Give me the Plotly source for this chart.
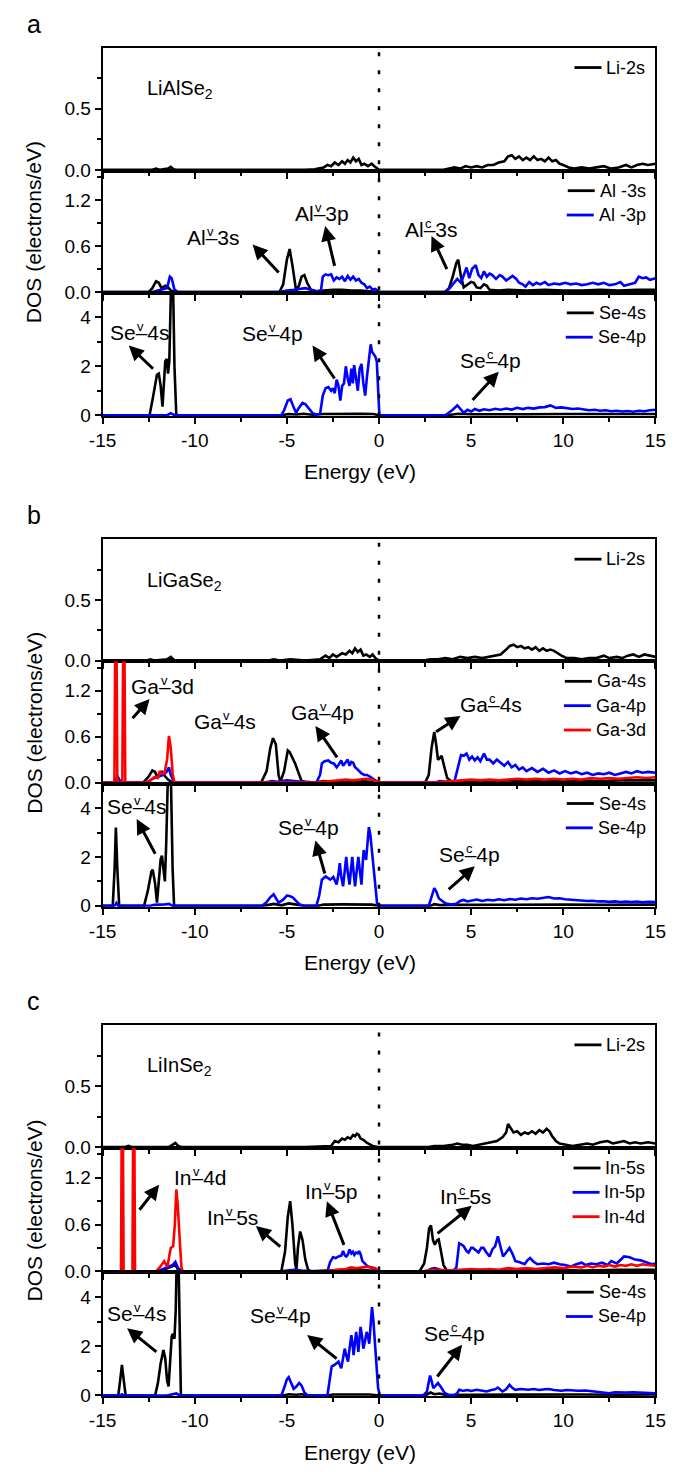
import plotly.graph_objects as go

# ---------------------------------------------------------------------------
# Projected DOS curves, (energy in eV, DOS in electrons/eV)
# ---------------------------------------------------------------------------

# ---- LiAlSe2 ----
A_LI_2S = [(-15, 0), (-12.3, 0), (-12.1, 0.01), (-11.9, 0), (-11.45, 0.01), (-11.3, 0.025), (-11.15, 0.005),
           (-11.0, 0), (-4.0, 0), (-3.5, 0.005), (-3.0, 0.02), (-2.8, 0.04), (-2.6, 0.03), (-2.4, 0.06),
           (-2.2, 0.04), (-2.0, 0.07), (-1.85, 0.05), (-1.7, 0.08), (-1.55, 0.06), (-1.4, 0.1), (-1.25, 0.07),
           (-1.1, 0.09), (-0.95, 0.04), (-0.8, 0.05), (-0.6, 0.03), (-0.4, 0.05), (-0.25, 0.03), (-0.1, 0.01),
           (0.0, 0), (3.5, 0), (3.8, 0.01), (4.1, 0.02), (4.4, 0.01), (4.7, 0.03), (5.0, 0.02), (5.3, 0.03),
           (5.6, 0.02), (5.9, 0.04), (6.2, 0.04), (6.5, 0.06), (6.8, 0.07), (7.0, 0.11), (7.2, 0.12),
           (7.4, 0.09), (7.6, 0.11), (7.8, 0.08), (8.0, 0.1), (8.2, 0.08), (8.4, 0.11), (8.6, 0.08),
           (8.8, 0.09), (9.0, 0.07), (9.2, 0.1), (9.4, 0.07), (9.6, 0.08), (9.8, 0.05), (10.0, 0.04),
           (10.3, 0.02), (10.6, 0.01), (11.0, 0.02), (11.4, 0.01), (11.8, 0.02), (12.2, 0.03), (12.6, 0.01),
           (13.0, 0.02), (13.4, 0.04), (13.7, 0.02), (14.0, 0.04), (14.3, 0.05), (14.6, 0.04), (15.0, 0.05)]

A_AL_3S = [(-15, 0), (-12.5, 0), (-12.3, 0.05), (-12.1, 0.14), (-11.95, 0.12), (-11.8, 0.05), (-11.6, 0.08),
           (-11.45, 0.06), (-11.3, 0.02), (-11.1, 0), (-5.4, 0), (-5.2, 0.1), (-5.0, 0.42), (-4.85, 0.56),
           (-4.7, 0.35), (-4.5, 0.02), (-4.35, 0.08), (-4.2, 0.2), (-4.05, 0.22), (-3.9, 0.12), (-3.7, 0.03),
           (-3.4, 0.01), (-3.0, 0.02), (-2.5, 0.03), (-2.0, 0.03), (-1.5, 0.02), (-1.0, 0.02), (-0.5, 0.01),
           (0, 0), (3.6, 0), (3.8, 0.05), (4.0, 0.2), (4.2, 0.38), (4.3, 0.42), (4.45, 0.2), (4.6, 0.06),
           (4.8, 0.1), (5.0, 0.13), (5.15, 0.12), (5.3, 0.06), (5.5, 0.05), (5.7, 0.1), (5.85, 0.08),
           (6.0, 0.03), (6.5, 0.02), (7, 0.03), (8, 0.02), (9, 0.03), (10, 0.02), (11, 0.02), (12, 0.03),
           (13, 0.02), (14, 0.03), (15, 0.03)]

A_AL_3P = [(-15, 0), (-12.3, 0), (-12.0, 0.02), (-11.7, 0.04), (-11.5, 0.05), (-11.35, 0.2), (-11.25, 0.18),
           (-11.1, 0.03), (-10.9, 0), (-5.4, 0), (-5.0, 0.02), (-4.6, 0.03), (-4.3, 0.04), (-4.0, 0.05),
           (-3.7, 0.03), (-3.4, 0.01), (-3.15, 0.02), (-3.05, 0.2), (-2.9, 0.23), (-2.75, 0.22), (-2.6, 0.23),
           (-2.45, 0.15), (-2.3, 0.19), (-2.15, 0.17), (-2.0, 0.2), (-1.85, 0.14), (-1.7, 0.21), (-1.55, 0.16),
           (-1.4, 0.2), (-1.25, 0.15), (-1.1, 0.17), (-0.95, 0.12), (-0.8, 0.1), (-0.65, 0.05), (-0.5, 0.07),
           (-0.35, 0.03), (-0.2, 0.04), (0, 0), (3.55, 0), (3.8, 0.04), (4.0, 0.1), (4.25, 0.17), (4.45, 0.12),
           (4.6, 0.23), (4.75, 0.32), (4.9, 0.18), (5.05, 0.3), (5.25, 0.35), (5.4, 0.22), (5.55, 0.18),
           (5.7, 0.27), (5.85, 0.2), (6.0, 0.24), (6.15, 0.22), (6.35, 0.17), (6.55, 0.22), (6.7, 0.2),
           (6.9, 0.15), (7.05, 0.18), (7.25, 0.21), (7.45, 0.17), (7.6, 0.12), (7.8, 0.1), (7.95, 0.07),
           (8.15, 0.13), (8.35, 0.09), (8.55, 0.12), (8.75, 0.1), (9.0, 0.13), (9.2, 0.09), (9.5, 0.11),
           (9.8, 0.1), (10.1, 0.12), (10.4, 0.1), (10.7, 0.11), (11.0, 0.09), (11.3, 0.1), (11.6, 0.12),
           (11.9, 0.1), (12.2, 0.12), (12.5, 0.09), (12.8, 0.1), (13.1, 0.13), (13.3, 0.08), (13.6, 0.1),
           (13.9, 0.12), (14.1, 0.2), (14.3, 0.18), (14.5, 0.19), (14.7, 0.16), (15.0, 0.18)]

A_SE_4S = [(-15, 0), (-12.45, 0), (-12.25, 0.8), (-12.05, 1.65), (-11.95, 1.7), (-11.85, 1.2), (-11.75, 0.35),
           (-11.68, 1.2), (-11.6, 2.2), (-11.52, 2.3), (-11.45, 1.7), (-11.38, 2.2), (-11.28, 5.5),
           (-11.18, 5.5), (-11.1, 2.0), (-11.0, 0), (-5.3, 0), (-4.9, 0.05), (-4.5, 0.03), (-4.1, 0.06),
           (-3.6, 0.02), (-3.0, 0.05), (-2.0, 0.07), (-1.0, 0.06), (-0.3, 0.05), (0, 0), (3.7, 0), (4.3, 0.06),
           (5, 0.04), (6, 0.05), (8, 0.04), (10, 0.05), (12, 0.04), (15, 0.05)]

A_SE_4P = [(-15, 0), (-11.5, 0), (-11.3, 0.08), (-11.1, 0), (-5.3, 0), (-5.15, 0.2), (-4.95, 0.6), (-4.8, 0.65),
           (-4.65, 0.35), (-4.5, 0.1), (-4.35, 0.3), (-4.15, 0.5), (-4.0, 0.45), (-3.8, 0.25), (-3.6, 0.08),
           (-3.4, 0.02), (-3.2, 0.05), (-3.05, 0.8), (-2.9, 1.1), (-2.75, 1.15), (-2.6, 1.0), (-2.5, 1.1),
           (-2.4, 0.9), (-2.3, 1.45), (-2.2, 1.2), (-2.1, 0.6), (-2.0, 1.2), (-1.9, 1.3), (-1.8, 2.0),
           (-1.7, 1.5), (-1.6, 1.2), (-1.5, 1.9), (-1.42, 1.3), (-1.35, 2.05), (-1.25, 1.4), (-1.15, 1.0),
           (-1.05, 1.9), (-0.95, 2.1), (-0.85, 1.3), (-0.75, 0.8), (-0.65, 1.6), (-0.55, 2.2), (-0.45, 2.9),
           (-0.38, 2.6), (-0.3, 2.5), (-0.2, 2.4), (-0.12, 2.2), (-0.05, 1.0), (0.02, 0), (3.6, 0), (3.8, 0.1),
           (4.0, 0.22), (4.25, 0.4), (4.45, 0.25), (4.6, 0.1), (4.8, 0.22), (5.0, 0.15), (5.2, 0.25),
           (5.45, 0.18), (5.7, 0.24), (6.0, 0.2), (6.3, 0.26), (6.6, 0.22), (6.9, 0.27), (7.2, 0.23),
           (7.5, 0.3), (7.8, 0.25), (8.1, 0.3), (8.4, 0.27), (8.7, 0.32), (9.0, 0.33), (9.3, 0.4), (9.6, 0.3),
           (9.9, 0.32), (10.2, 0.28), (10.5, 0.25), (10.8, 0.27), (11.1, 0.22), (11.4, 0.2), (11.7, 0.22),
           (12.0, 0.18), (12.3, 0.2), (12.6, 0.16), (12.9, 0.18), (13.2, 0.15), (13.5, 0.17), (13.8, 0.14),
           (14.1, 0.18), (14.4, 0.16), (14.7, 0.2), (15, 0.22)]

# ---- LiGaSe2 ----
B_LI_2S = [(-15, 0), (-12.6, 0), (-12.4, 0.01), (-12.2, 0), (-11.5, 0.01), (-11.3, 0.03), (-11.1, 0), (-6, 0),
           (-5.7, 0.01), (-5.4, 0), (-4.8, 0.01), (-4, 0), (-3.2, 0.01), (-2.9, 0.04), (-2.7, 0.02),
           (-2.5, 0.05), (-2.3, 0.03), (-2.0, 0.06), (-1.8, 0.05), (-1.6, 0.08), (-1.45, 0.06), (-1.3, 0.1),
           (-1.15, 0.07), (-1.0, 0.09), (-0.85, 0.04), (-0.7, 0.05), (-0.5, 0.03), (-0.35, 0.05), (-0.2, 0.02),
           (0, 0), (2.4, 0), (2.8, 0.01), (3.2, 0.01), (3.6, 0.02), (4.0, 0.01), (4.4, 0.03), (4.8, 0.02),
           (5.2, 0.03), (5.6, 0.02), (6.0, 0.03), (6.3, 0.04), (6.6, 0.05), (6.9, 0.09), (7.1, 0.12),
           (7.3, 0.13), (7.5, 0.11), (7.7, 0.12), (7.9, 0.1), (8.1, 0.11), (8.3, 0.09), (8.5, 0.11),
           (8.7, 0.08), (8.9, 0.1), (9.1, 0.08), (9.3, 0.09), (9.5, 0.08), (9.7, 0.06), (9.9, 0.04),
           (10.2, 0.02), (10.6, 0.02), (11.0, 0.01), (11.4, 0.02), (11.8, 0.02), (12.2, 0.04), (12.5, 0.02),
           (12.9, 0.03), (13.2, 0.02), (13.5, 0.04), (13.8, 0.05), (14.1, 0.03), (14.4, 0.05), (14.7, 0.04),
           (15, 0.03)]

B_GA_4S = [(-15, 0), (-12.8, 0), (-12.5, 0.08), (-12.3, 0.16), (-12.15, 0.14), (-12.05, 0.08), (-11.9, 0.12),
           (-11.78, 0.14), (-11.6, 0.08), (-11.45, 0.04), (-11.2, 0), (-6.4, 0), (-6.1, 0.15), (-5.9, 0.45),
           (-5.75, 0.58), (-5.6, 0.5), (-5.45, 0.1), (-5.35, 0.01), (-5.15, 0.15), (-4.95, 0.42), (-4.85, 0.4),
           (-4.7, 0.33), (-4.55, 0.25), (-4.4, 0.15), (-4.2, 0.02), (-4.0, 0.01), (-3.5, 0), (-3.0, 0.02),
           (-2.5, 0.01), (-2.0, 0.02), (-1.5, 0.02), (-1.0, 0.02), (-0.5, 0.01), (0, 0), (2.5, 0), (2.7, 0.1),
           (2.85, 0.45), (3.0, 0.66), (3.1, 0.5), (3.2, 0.3), (3.3, 0.32), (3.4, 0.35), (3.55, 0.2),
           (3.7, 0.06), (3.9, 0.02), (4.5, 0.01), (5, 0.02), (6, 0.02), (7, 0.03), (8, 0.02), (9, 0.03),
           (10, 0.02), (11, 0.03), (12, 0.02), (13, 0.03), (14, 0.03), (15, 0.03)]

B_GA_4P = [(-15, 0), (-14.35, 0), (-14.2, 0.09), (-14.05, 0.02), (-13.9, 0), (-12.6, 0), (-12.3, 0.05),
           (-12.0, 0.08), (-11.7, 0.1), (-11.5, 0.15), (-11.4, 0.2), (-11.3, 0.1), (-11.1, 0), (-6.2, 0),
           (-5.8, 0.02), (-5.5, 0.01), (-5.0, 0.03), (-4.6, 0.02), (-4.2, 0.01), (-3.4, 0), (-3.2, 0.1),
           (-3.1, 0.25), (-2.95, 0.28), (-2.75, 0.29), (-2.6, 0.26), (-2.45, 0.25), (-2.3, 0.2), (-2.2, 0.23),
           (-2.05, 0.29), (-1.95, 0.22), (-1.8, 0.27), (-1.7, 0.3), (-1.6, 0.22), (-1.5, 0.27), (-1.4, 0.26),
           (-1.3, 0.2), (-1.2, 0.18), (-1.1, 0.15), (-0.95, 0.12), (-0.8, 0.1), (-0.65, 0.1), (-0.5, 0.08),
           (-0.35, 0.05), (-0.2, 0.03), (0, 0), (3.0, 0), (3.3, 0.02), (3.6, 0.01), (4.1, 0.02), (4.3, 0.2),
           (4.45, 0.36), (4.6, 0.35), (4.75, 0.38), (4.9, 0.3), (5.05, 0.34), (5.2, 0.29), (5.35, 0.33),
           (5.5, 0.28), (5.7, 0.38), (5.85, 0.3), (6.0, 0.3), (6.2, 0.25), (6.4, 0.3), (6.6, 0.26),
           (6.8, 0.22), (7.0, 0.27), (7.2, 0.2), (7.4, 0.23), (7.6, 0.17), (7.8, 0.2), (8.0, 0.15),
           (8.3, 0.19), (8.6, 0.14), (8.9, 0.18), (9.2, 0.13), (9.5, 0.16), (9.8, 0.12), (10.1, 0.15),
           (10.4, 0.12), (10.7, 0.14), (11.0, 0.11), (11.3, 0.13), (11.6, 0.1), (11.9, 0.12), (12.2, 0.11),
           (12.5, 0.13), (12.8, 0.1), (13.1, 0.12), (13.4, 0.14), (13.7, 0.12), (14.0, 0.15), (14.3, 0.13),
           (14.6, 0.14), (15, 0.13)]

B_GA_3D = [(-15, 0), (-14.36, 0), (-14.31, 2.0), (-14.25, 2.0), (-14.2, 0), (-13.93, 0), (-13.88, 2.0),
           (-13.82, 2.0), (-13.77, 0), (-12.6, 0), (-12.4, 0.03), (-12.2, 0.07), (-12.0, 0.06), (-11.9, 0.15),
           (-11.8, 0.12), (-11.65, 0.12), (-11.5, 0.3), (-11.4, 0.61), (-11.3, 0.45), (-11.2, 0.12),
           (-11.1, 0), (-3.5, 0), (-3.0, 0.01), (-2.6, 0.02), (-2.2, 0.03), (-1.8, 0.04), (-1.4, 0.03),
           (-1.0, 0.04), (-0.7, 0.05), (-0.4, 0.04), (-0.2, 0.02), (0, 0), (3.0, 0), (3.4, 0.01), (4.0, 0.02),
           (4.5, 0.03), (5.0, 0.04), (5.5, 0.03), (6.0, 0.04), (6.5, 0.03), (7.0, 0.04), (7.5, 0.05),
           (8, 0.04), (8.5, 0.05), (9, 0.04), (9.5, 0.05), (10, 0.04), (10.5, 0.05), (11, 0.04), (11.5, 0.06),
           (12, 0.05), (12.5, 0.06), (13, 0.05), (13.5, 0.06), (14, 0.07), (14.5, 0.06), (15, 0.07)]

B_SE_4S = [(-15, 0), (-14.45, 0), (-14.35, 1.5), (-14.28, 3.2), (-14.2, 1.5), (-14.1, 0), (-12.75, 0),
           (-12.55, 0.6), (-12.35, 1.4), (-12.28, 1.48), (-12.15, 0.9), (-12.05, 0.13), (-11.95, 1.0),
           (-11.85, 1.9), (-11.78, 2.05), (-11.68, 1.5), (-11.62, 1.0), (-11.55, 2.5), (-11.45, 5.5),
           (-11.3, 5.5), (-11.2, 1.5), (-11.12, 0), (-6.3, 0), (-5.7, 0.08), (-5.3, 0.02), (-4.9, 0.1),
           (-4.5, 0.05), (-4.1, 0.01), (-3.3, 0), (-3.0, 0.05), (-2.0, 0.06), (-1.0, 0.05), (-0.4, 0.05),
           (0, 0), (2.8, 0), (3.0, 0.07), (3.3, 0.03), (4.5, 0.04), (6, 0.05), (8, 0.04), (10, 0.05),
           (12, 0.04), (15, 0.05)]

B_SE_4P = [(-15, 0), (-14.35, 0), (-14.25, 0.12), (-14.15, 0), (-12.4, 0), (-12.2, 0.04), (-11.6, 0.06),
           (-11.4, 0.08), (-11.2, 0), (-6.35, 0), (-6.1, 0.15), (-5.9, 0.35), (-5.72, 0.47), (-5.6, 0.3),
           (-5.45, 0.13), (-5.2, 0.25), (-5.0, 0.42), (-4.85, 0.4), (-4.67, 0.34), (-4.5, 0.2), (-4.3, 0.05),
           (-4.1, 0.01), (-3.4, 0), (-3.25, 0.4), (-3.1, 1.07), (-2.9, 1.2), (-2.75, 1.12), (-2.65, 1.07),
           (-2.48, 1.18), (-2.3, 0.87), (-2.2, 1.3), (-2.13, 1.75), (-2.05, 1.2), (-1.95, 0.8), (-1.85, 1.5),
           (-1.78, 2.0), (-1.7, 1.4), (-1.6, 0.87), (-1.52, 1.5), (-1.45, 2.0), (-1.38, 1.4), (-1.3, 0.8),
           (-1.2, 1.5), (-1.12, 2.0), (-1.05, 1.5), (-0.95, 0.87), (-0.88, 1.8), (-0.83, 2.28), (-0.7, 1.88),
           (-0.62, 2.6), (-0.55, 3.22), (-0.47, 2.9), (-0.4, 2.28), (-0.3, 1.6), (-0.23, 1.07), (-0.1, 0.07),
           (0, 0), (2.7, 0), (2.85, 0.4), (3.0, 0.72), (3.1, 0.6), (3.25, 0.3), (3.4, 0.22), (3.6, 0.1),
           (3.9, 0.05), (4.2, 0.08), (4.4, 0.2), (4.6, 0.24), (4.8, 0.18), (5.0, 0.22), (5.3, 0.26),
           (5.6, 0.2), (5.9, 0.25), (6.2, 0.22), (6.5, 0.27), (6.8, 0.23), (7.1, 0.28), (7.4, 0.25),
           (7.7, 0.3), (8.0, 0.27), (8.3, 0.31), (8.6, 0.29), (8.9, 0.32), (9.2, 0.36), (9.5, 0.3),
           (9.8, 0.31), (10.1, 0.27), (10.4, 0.25), (10.7, 0.26), (11.0, 0.22), (11.3, 0.2), (11.6, 0.21),
           (11.9, 0.18), (12.2, 0.19), (12.5, 0.16), (12.8, 0.18), (13.1, 0.15), (13.4, 0.17), (13.7, 0.15),
           (14.0, 0.17), (14.3, 0.14), (14.6, 0.16), (15, 0.15)]

# ---- LiInSe2 ----
C_LI_2S = [(-15, 0), (-13.8, 0), (-13.6, 0.01), (-13.4, 0), (-11.4, 0), (-11.2, 0.02), (-11.05, 0.035),
           (-10.9, 0.01), (-10.7, 0), (-4.0, 0), (-3.0, 0.01), (-2.6, 0.01), (-2.4, 0.05), (-2.2, 0.04),
           (-2.0, 0.07), (-1.85, 0.06), (-1.7, 0.08), (-1.55, 0.07), (-1.4, 0.1), (-1.3, 0.09), (-1.2, 0.11),
           (-1.1, 0.1), (-1.0, 0.07), (-0.85, 0.06), (-0.7, 0.04), (-0.5, 0.02), (-0.35, 0.01), (0, 0),
           (2.6, 0), (3.0, 0.01), (3.5, 0.01), (4.0, 0.02), (4.25, 0.03), (4.5, 0.02), (4.8, 0.02),
           (5.1, 0.01), (5.4, 0.02), (5.8, 0.03), (6.1, 0.04), (6.4, 0.05), (6.7, 0.08), (6.9, 0.12),
           (7.0, 0.19), (7.15, 0.15), (7.3, 0.12), (7.5, 0.13), (7.7, 0.1), (7.9, 0.12), (8.1, 0.11),
           (8.3, 0.13), (8.5, 0.11), (8.7, 0.14), (8.9, 0.12), (9.1, 0.15), (9.25, 0.13), (9.4, 0.09),
           (9.6, 0.05), (9.8, 0.03), (10.1, 0.02), (10.5, 0.01), (10.9, 0.02), (11.3, 0.03), (11.6, 0.02),
           (12.0, 0.04), (12.4, 0.05), (12.7, 0.03), (13.0, 0.04), (13.3, 0.05), (13.6, 0.03), (13.9, 0.04),
           (14.2, 0.03), (14.6, 0.04), (15, 0.03)]

C_IN_5S = [(-15, 0), (-11.9, 0), (-11.6, 0.03), (-11.4, 0.05), (-11.2, 0.06), (-11.05, 0.08), (-10.9, 0.02),
           (-10.7, 0), (-5.3, 0), (-5.1, 0.25), (-4.95, 0.7), (-4.82, 0.9), (-4.7, 0.6), (-4.55, 0.1),
           (-4.48, 0.02), (-4.4, 0.3), (-4.28, 0.51), (-4.15, 0.4), (-4.0, 0.15), (-3.85, 0.02), (-3.7, 0),
           (-3.0, 0.01), (-2.0, 0.02), (-1.0, 0.02), (-0.4, 0.01), (0, 0), (2.2, 0), (2.45, 0.1), (2.6, 0.3),
           (2.72, 0.55), (2.82, 0.59), (2.93, 0.4), (3.03, 0.34), (3.15, 0.4), (3.24, 0.41), (3.35, 0.25),
           (3.5, 0.08), (3.65, 0.02), (3.8, 0), (4.5, 0.01), (5.5, 0.02), (7, 0.01), (9, 0.02), (11, 0.01),
           (13, 0.02), (15, 0.02)]

C_IN_5P = [(-15, 0), (-14.05, 0), (-13.95, 0.02), (-13.85, 0), (-12.0, 0), (-11.7, 0.03), (-11.4, 0.05),
           (-11.2, 0.08), (-11.05, 0.12), (-10.9, 0.04), (-10.7, 0), (-5.3, 0), (-5.0, 0.01), (-4.6, 0.02),
           (-4.2, 0.01), (-3.5, 0), (-2.8, 0), (-2.65, 0.12), (-2.5, 0.18), (-2.35, 0.17), (-2.2, 0.19),
           (-2.05, 0.2), (-1.95, 0.26), (-1.85, 0.2), (-1.77, 0.19), (-1.68, 0.22), (-1.6, 0.28), (-1.5, 0.23),
           (-1.42, 0.25), (-1.34, 0.21), (-1.25, 0.24), (-1.15, 0.23), (-1.08, 0.26), (-1.0, 0.22),
           (-0.9, 0.13), (-0.75, 0.1), (-0.6, 0.06), (-0.45, 0.05), (-0.3, 0.03), (-0.15, 0.02), (0, 0),
           (2.6, 0), (2.8, 0.03), (3.0, 0.04), (3.2, 0.03), (3.4, 0.01), (4.0, 0), (4.2, 0.05), (4.35, 0.36),
           (4.5, 0.34), (4.6, 0.32), (4.75, 0.26), (4.86, 0.24), (5.0, 0.3), (5.1, 0.3), (5.25, 0.27),
           (5.4, 0.24), (5.55, 0.3), (5.67, 0.3), (5.8, 0.25), (6.0, 0.19), (6.15, 0.28), (6.3, 0.32),
           (6.45, 0.45), (6.6, 0.3), (6.73, 0.19), (6.9, 0.24), (7.08, 0.3), (7.25, 0.22), (7.4, 0.13),
           (7.6, 0.12), (7.9, 0.09), (8.05, 0.14), (8.2, 0.17), (8.4, 0.12), (8.6, 0.09), (8.9, 0.1),
           (9.2, 0.09), (9.5, 0.11), (9.8, 0.09), (10.1, 0.08), (10.4, 0.06), (10.7, 0.09), (11.0, 0.11),
           (11.2, 0.08), (11.5, 0.1), (11.8, 0.09), (12.1, 0.11), (12.4, 0.08), (12.6, 0.13), (12.9, 0.1),
           (13.1, 0.15), (13.3, 0.19), (13.6, 0.18), (13.9, 0.15), (14.2, 0.14), (14.5, 0.11), (14.8, 0.09),
           (15, 0.1)]

C_IN_4D = [(-15, 0), (-14.0, 0), (-13.96, 2.0), (-13.9, 2.0), (-13.86, 0), (-13.38, 0), (-13.34, 2.0),
           (-13.28, 2.0), (-13.24, 0), (-12.1, 0), (-11.9, 0.05), (-11.75, 0.1), (-11.66, 0.13),
           (-11.55, 0.08), (-11.48, 0.06), (-11.38, 0.2), (-11.3, 0.3), (-11.17, 0.32), (-11.08, 0.6),
           (-11.0, 1.05), (-10.92, 0.85), (-10.8, 0.34), (-10.72, 0.05), (-10.65, 0), (-3.0, 0), (-2.6, 0.01),
           (-2.2, 0.02), (-1.8, 0.03), (-1.5, 0.05), (-1.2, 0.04), (-0.9, 0.05), (-0.64, 0.06), (-0.4, 0.05),
           (-0.2, 0.04), (0, 0), (2.4, 0), (2.8, 0.02), (3.2, 0.02), (3.8, 0.01), (4.4, 0.02), (5.0, 0.03),
           (5.5, 0.02), (6.0, 0.03), (6.5, 0.02), (7.0, 0.04), (7.5, 0.03), (8.0, 0.04), (8.5, 0.03),
           (9.0, 0.04), (9.5, 0.05), (10.0, 0.04), (10.5, 0.06), (11.0, 0.05), (11.3, 0.07), (11.6, 0.05),
           (11.9, 0.07), (12.2, 0.06), (12.5, 0.08), (12.8, 0.06), (13.1, 0.08), (13.4, 0.07), (13.7, 0.09),
           (14.0, 0.07), (14.3, 0.09), (14.6, 0.08), (15, 0.07)]

C_SE_4S = [(-15, 0), (-14.15, 0), (-14.05, 0.6), (-13.95, 1.24), (-13.85, 0.6), (-13.75, 0), (-12.15, 0),
           (-12.0, 0.5), (-11.85, 1.3), (-11.7, 1.84), (-11.6, 1.5), (-11.5, 0.6), (-11.42, 0.37),
           (-11.35, 1.2), (-11.25, 2.4), (-11.18, 2.5), (-11.1, 2.3), (-11.03, 3.5), (-10.98, 5.5),
           (-10.88, 5.5), (-10.82, 2.0), (-10.75, 0), (-5.2, 0), (-4.9, 0.05), (-4.5, 0.03), (-4.2, 0.05),
           (-3.8, 0), (-2.8, 0), (-2.5, 0.04), (-1.5, 0.05), (-0.5, 0.04), (0, 0), (2.5, 0), (2.8, 0.12),
           (3.0, 0.05), (3.3, 0.08), (3.6, 0.02), (5, 0.03), (7, 0.04), (9, 0.03), (11, 0.04), (13, 0.03),
           (15, 0.04)]

C_SE_4P = [(-15, 0), (-14.05, 0), (-13.95, 0.05), (-13.85, 0), (-11.5, 0), (-11.2, 0.05), (-11.0, 0.08),
           (-10.8, 0), (-5.3, 0), (-5.15, 0.3), (-5.0, 0.65), (-4.9, 0.74), (-4.78, 0.55), (-4.63, 0.27),
           (-4.5, 0.35), (-4.33, 0.51), (-4.2, 0.4), (-4.05, 0.12), (-3.9, 0.02), (-3.7, 0), (-2.8, 0),
           (-2.7, 0.5), (-2.57, 1.17), (-2.4, 1.25), (-2.2, 1.37), (-2.05, 1.1), (-1.95, 1.5), (-1.86, 1.9),
           (-1.77, 1.6), (-1.68, 1.37), (-1.6, 1.9), (-1.5, 2.45), (-1.44, 2.1), (-1.38, 1.64), (-1.3, 2.2),
           (-1.24, 2.58), (-1.18, 2.2), (-1.12, 1.77), (-1.06, 2.3), (-1.0, 2.78), (-0.92, 2.4), (-0.85, 1.9),
           (-0.76, 2.2), (-0.67, 2.58), (-0.6, 2.4), (-0.53, 2.1), (-0.46, 2.8), (-0.38, 3.59), (-0.3, 3.0),
           (-0.23, 2.31), (-0.14, 1.3), (-0.05, 0.3), (0.05, 0), (2.4, 0), (2.6, 0.16), (2.7, 0.5),
           (2.77, 0.81), (2.85, 0.6), (2.95, 0.3), (3.08, 0.4), (3.2, 0.5), (3.35, 0.35), (3.56, 0.1),
           (3.8, 0.01), (4.1, 0.01), (4.25, 0.1), (4.35, 0.23), (4.5, 0.2), (4.6, 0.19), (4.8, 0.22),
           (5.0, 0.18), (5.3, 0.23), (5.6, 0.19), (5.84, 0.16), (6.1, 0.22), (6.3, 0.25), (6.45, 0.32),
           (6.6, 0.2), (6.7, 0.16), (6.9, 0.25), (7.08, 0.43), (7.25, 0.3), (7.4, 0.23), (7.7, 0.26),
           (8.0, 0.22), (8.1, 0.23), (8.4, 0.26), (8.7, 0.22), (9.0, 0.25), (9.2, 0.26), (9.5, 0.22),
           (9.9, 0.19), (10.2, 0.22), (10.5, 0.2), (10.8, 0.19), (11.2, 0.2), (11.6, 0.16), (12.0, 0.15),
           (12.5, 0.09), (12.8, 0.13), (13.1, 0.11), (13.4, 0.12), (13.8, 0.13), (14.3, 0.12), (14.6, 0.1),
           (15, 0.09)]

# Tick values / labels
X_TICKS = [-15, -10, -5, 0, 5, 10, 15]
X_MINOR = [-12.5, -7.5, -2.5, 2.5, 7.5, 12.5]
LI_TICKS, LI_TEXT, LI_MINOR = [0, 0.5], ['0.0', '0.5'], [0.25, 0.75]
M_TICKS, M_TEXT, M_MINOR = [0, 0.6, 1.2], ['0.0', '0.6', '1.2'], [0.3, 0.9, 1.5]
SE_TICKS, SE_TEXT, SE_MINOR = [0, 2, 4], ['0', '2', '4'], [1, 3]

# ---------------------------------------------------------------------------
# Figure layout
# ---------------------------------------------------------------------------
W, H = 677, 1472
X_LEFT, X_RIGHT = 92, 666
FONT = 'Arial, Liberation Sans, sans-serif'
BLACK, BLUE, RED = '#000000', '#0000ff', '#ff0000'

TICK_SIZE = 19
TITLE_SIZE = 21
LABEL_SIZE = 21
MARK_SIZE = 13
LEGEND_SIZE = 18
CURVE_W = 2.6

# Arial advance widths (em) for right-aligning legend text and placing band marks
ARIAL_W = {'A': .667, 'l': .222, 'G': .778, 'a': .556, 'I': .278, 'n': .556, 'S': .667, 'e': .556,
           '–': .556, 'L': .556, 'i': .222, '-': .333, '2': .556, '3': .556, '4': .556, '5': .556,
           's': .5, 'p': .556, 'd': .556, ' ': .278}


def text_w(s, size):
    return sum(ARIAL_W.get(ch, .556) for ch in s) * size


def fx(px):
    return px / W


def fy(px):
    return 1 - px / H


ROW_AXES = {
    'li': dict(range=[-0.008, 1.0], tickvals=LI_TICKS, ticktext=LI_TEXT, minor=LI_MINOR),
    'metal': dict(range=[-0.013, 1.58], tickvals=M_TICKS, ticktext=M_TEXT, minor=M_MINOR),
    'se': dict(range=[-0.04, 5.0], tickvals=SE_TICKS, ticktext=SE_TEXT, minor=SE_MINOR),
}

# labels: (element, band mark, orbital, E_left, y, arrow head (E, y) or None, arrow tail (E, y))
PANELS = [
    dict(letter='a', compound='LiAlSe<sub>2</sub>', edges=(48, 172, 295, 419), rows=[
        dict(kind='li', series=[('Li-2s', BLACK, A_LI_2S)], labels=[]),
        dict(kind='metal', series=[('Al -3s', BLACK, A_AL_3S), ('Al -3p', BLUE, A_AL_3P)], labels=[
            ('Al', 'v', '3s', -10.45, 0.71, (-6.86, 0.62), (-5.37, 0.235)),
            ('Al', 'v', '3p', -4.62, 1.03, (-2.92, 0.86), (-2.39, 0.32)),
            ('Al', 'c', '3s', 1.38, 0.81, (2.85, 0.73), (3.72, 0.28))]),
        dict(kind='se', series=[('Se-4s', BLACK, A_SE_4S), ('Se-4p', BLUE, A_SE_4P)], labels=[
            ('Se', 'v', '4s', -14.63, 3.39, (-13.58, 2.85), (-12.18, 1.84)),
            ('Se', 'v', '4p', -7.47, 3.33, (-3.61, 2.85), (-2.36, 1.44)),
            ('Se', 'c', '4p', 4.35, 2.25, (6.5, 1.78), (5.0, 0.56))]),
    ]),
    dict(letter='b', compound='LiGaSe<sub>2</sub>', edges=(543, 666, 789, 913), rows=[
        dict(kind='li', series=[('Li-2s', BLACK, B_LI_2S)], labels=[]),
        dict(kind='metal', series=[('Ga-4s', BLACK, B_GA_4S), ('Ga-4p', BLUE, B_GA_4P),
                                   ('Ga-3d', RED, B_GA_3D)], labels=[
            ('Ga', 'v', '3d', -13.5, 1.25, (-12.45, 1.09), (-13.45, 0.82)),
            ('Ga', 'v', '4s', -10.09, 0.8, None, None),
            ('Ga', 'v', '4p', -4.84, 0.91, (-3.45, 0.74), (-2.22, 0.31)),
            ('Ga', 'c', '4s', 4.33, 1.02, (4.42, 0.87), (3.02, 0.65))]),
        dict(kind='se', series=[('Se-4s', BLACK, B_SE_4S), ('Se-4p', BLUE, B_SE_4P)], labels=[
            ('Se', 'v', '4s', -14.81, 4.08, (-13.15, 3.55), (-12.1, 2.07)),
            ('Se', 'v', '4p', -5.55, 3.21, (-3.45, 2.67), (-2.92, 1.26)),
            ('Se', 'c', '4p', 3.2, 2.1, (5.2, 1.62), (3.7, 0.62))]),
    ]),
    dict(letter='c', compound='LiInSe<sub>2</sub>', edges=(1032, 1156, 1281, 1406), rows=[
        dict(kind='li', series=[('Li-2s', BLACK, C_LI_2S)], labels=[]),
        dict(kind='metal', series=[('In-5s', BLACK, C_IN_5S), ('In-5p', BLUE, C_IN_5P),
                                   ('In-4d', RED, C_IN_4D)], labels=[
            ('In', 'v', '4d', -11.17, 1.2, (-11.93, 1.11), (-13.06, 0.77)),
            ('In', 'v', '5s', -9.39, 0.69, (-6.68, 0.58), (-5.28, 0.3)),
            ('In', 'v', '5p', -4.06, 1.03, (-2.83, 0.9), (-1.87, 0.32)),
            ('In', 'c', '5s', 3.28, 0.96, (5.03, 0.84), (3.1, 0.47))]),
        dict(kind='se', series=[('Se-4s', BLACK, C_SE_4S), ('Se-4p', BLUE, C_SE_4P)], labels=[
            ('Se', 'v', '4s', -14.81, 3.33, (-13.67, 2.73), (-12.0, 1.72)),
            ('Se', 'v', '4p', -7.08, 3.25, (-3.9, 2.45), (-2.22, 1.45)),
            ('Se', 'c', '4p', 2.41, 2.53, (4.51, 2.06), (3.1, 0.71))]),
    ]),
]

fig = go.Figure()
layout = dict(width=W, height=H, margin=dict(l=0, r=0, t=0, b=0), showlegend=False,
              paper_bgcolor='white', plot_bgcolor='white', font=dict(family=FONT, color='black'))
annotations, shapes = [], []

k = 0
for panel in PANELS:
    top, b1, b2, bottom = panel['edges']
    bounds = [(top, b1), (b1, b2), (b2, bottom)]
    first_x = None
    for r, row in enumerate(panel['rows']):
        k += 1
        sfx = '' if k == 1 else str(k)
        xid, yid = 'x' + sfx, 'y' + sfx
        if first_x is None:
            first_x = xid
        r_top, r_bot = bounds[r]
        spec = ROW_AXES[row['kind']]
        is_bottom = r == 2

        layout['xaxis' + sfx] = dict(
            domain=[fx(X_LEFT), fx(X_RIGHT)], range=[-15, 15], anchor=yid,
            showline=True, linecolor='black', linewidth=2, mirror=True,
            ticks='outside', ticklen=6, tickwidth=2, tickcolor='black',
            tickvals=X_TICKS, ticktext=[str(v) for v in X_TICKS],
            minor=dict(ticks='outside', ticklen=3.5, tickwidth=1.5, tickcolor='black', tickvals=X_MINOR),
            showticklabels=is_bottom, tickfont=dict(size=TICK_SIZE, family=FONT, color='black'),
            showgrid=False, zeroline=False, layer='below traces', fixedrange=True)
        layout['yaxis' + sfx] = dict(
            domain=[fy(r_bot), fy(r_top)], range=spec['range'], anchor=xid,
            showline=True, linecolor='black', linewidth=2, mirror=True,
            ticks='outside', ticklen=6, tickwidth=2, tickcolor='black',
            tickvals=spec['tickvals'], ticktext=spec['ticktext'],
            minor=dict(ticks='outside', ticklen=3.5, tickwidth=1.5, tickcolor='black', tickvals=spec['minor']),
            tickfont=dict(size=TICK_SIZE, family=FONT, color='black'),
            showgrid=False, zeroline=False, layer='below traces', fixedrange=True)

        # curves
        for name, color, pts in row['series']:
            fig.add_trace(go.Scatter(x=[p[0] for p in pts], y=[p[1] for p in pts], xaxis=xid, yaxis=yid,
                                     mode='lines', name=name, line=dict(color=color, width=CURVE_W),
                                     hoverinfo='skip'))

        # legend block in the top-right corner of the subplot
        for j, (name, color, _) in enumerate(row['series']):
            ypx = r_top + 20 + 24.5 * j
            tw = text_w(name, LEGEND_SIZE)
            x_text = 653 - tw
            shapes.append(dict(type='line', xref='paper', yref='paper', x0=fx(x_text - 32), x1=fx(x_text - 4),
                               y0=fy(ypx), y1=fy(ypx), line=dict(color=color, width=2.8)))
            annotations.append(dict(x=fx(x_text), y=fy(ypx), xref='paper', yref='paper', text=name,
                                    xanchor='left', yanchor='middle', showarrow=False, borderpad=0,
                                    font=dict(size=LEGEND_SIZE, family=FONT, color='black')))

        # orbital labels with band mark stacked above the dash, plus arrows
        for el, band, orb, e0, v0, head, tail in row['labels']:
            annotations.append(dict(x=e0, y=v0, xref=xid, yref=yid, text=f'{el}–{orb}', xanchor='left',
                                    yanchor='middle', showarrow=False, borderpad=0,
                                    font=dict(size=LABEL_SIZE, family=FONT, color='black')))
            shift = text_w(el, LABEL_SIZE) + text_w('–', LABEL_SIZE) / 2
            annotations.append(dict(x=e0, y=v0, xref=xid, yref=yid, text=band, xanchor='center',
                                    yanchor='middle', xshift=shift, yshift=6, showarrow=False, borderpad=0,
                                    font=dict(size=MARK_SIZE, family=FONT, color='black')))
            if head is not None:
                annotations.append(dict(x=head[0], y=head[1], xref=xid, yref=yid, ax=tail[0], ay=tail[1],
                                        axref=xid, ayref=yid, text='', showarrow=True, arrowhead=2,
                                        arrowsize=1, arrowwidth=3, arrowcolor='black', standoff=0))

    # compound name in the Li-2s subplot
    annotations.append(dict(x=fx(137), y=fy(top + 42), xref='paper', yref='paper', text=panel['compound'],
                            xanchor='left', yanchor='middle', showarrow=False, borderpad=0,
                            font=dict(size=20, family=FONT, color='black')))
    # panel letter
    annotations.append(dict(x=fx(12), y=fy(top - 24), xref='paper', yref='paper', text=panel['letter'],
                            xanchor='left', yanchor='middle', showarrow=False, borderpad=0,
                            font=dict(size=25, family=FONT, color='black')))
    # axis titles
    annotations.append(dict(x=fx(359), y=fy(bottom + 56), xref='paper', yref='paper', text='Energy (eV)',
                            xanchor='center', yanchor='middle', showarrow=False, borderpad=0,
                            font=dict(size=TITLE_SIZE, family=FONT, color='black')))
    annotations.append(dict(x=fx(21), y=fy((b1 + b2) / 2), xref='paper', yref='paper',
                            text='DOS (electrons/eV)', textangle=-90, xanchor='center', yanchor='middle',
                            showarrow=False, borderpad=0, font=dict(size=TITLE_SIZE, family=FONT, color='black')))
    # Fermi level (E = 0) marker through the whole stack
    shapes.append(dict(type='line', xref=first_x, yref='paper', x0=0, x1=0, y0=fy(bottom), y1=fy(top),
                       line=dict(color='black', width=2.5, dash='4px,14px'), layer='above'))

layout['annotations'] = annotations
layout['shapes'] = shapes
fig.update_layout(**layout)
fig.write_html('out.html')
